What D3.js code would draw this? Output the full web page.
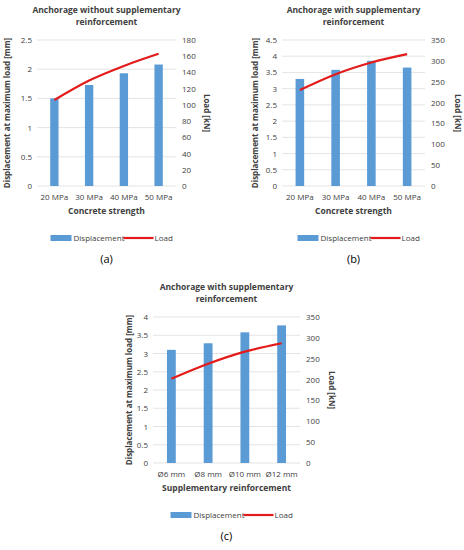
<!DOCTYPE html>
<html><head><meta charset="utf-8">
<script src="https://cdn.jsdelivr.net/npm/d3@7"></script>
<style>body{margin:0;background:#fff}text{font-family:"Open Sans",sans-serif;fill:#404040}</style>
</head><body><svg id="c" width="464" height="550"></svg>
<script>
const catsA = ["20 MPa","30 MPa","40 MPa","50 MPa"];
const dispA = [1.5,1.73,1.93,2.08];
const loadA = [106,130,148,163];
const catsB = ["20 MPa","30 MPa","40 MPa","50 MPa"];
const dispB = [3.3,3.58,3.86,3.65];
const loadB = [230,268,296,316];
const catsC = ["Ø6 mm","Ø8 mm","Ø10 mm","Ø12 mm"];
const dispC = [3.1,3.28,3.58,3.77];
const loadC = [202,238,267,287];
const svg = d3.select("#c");
function panel(o){
  const g = svg.append("g");
  const x = d3.scaleBand().domain(o.cats).range([o.x0,o.x1]).paddingInner(0.76).paddingOuter(0.38);
  const yl = d3.scaleLinear().domain([0,o.lmax]).range([o.yb,o.yt]);
  const yr = d3.scaleLinear().domain([0,o.rmax]).range([o.yb,o.yt]);
  const lt = d3.range(0,o.lmax+1e-9,o.lstep), rt = d3.range(0,o.rmax+1e-9,o.rstep);
  g.selectAll(".gl").data(lt).join("line").attr("x1",o.x0).attr("x2",o.x1)
    .attr("y1",d=>yl(d)).attr("y2",d=>yl(d)).attr("stroke","#d9d9d9").attr("stroke-width",0.7);
  g.selectAll(".lt").data(lt).join("text").attr("x",o.x0-5).attr("y",d=>yl(d)+3)
    .attr("text-anchor","end").attr("font-size",8).text(d=>d3.format("~g")(d));
  g.selectAll(".rt").data(rt).join("text").attr("x",o.x1+6).attr("y",d=>yr(d)+3)
    .attr("font-size",8).text(d=>d);
  g.selectAll(".bar").data(o.disp).join("rect").attr("x",(d,i)=>x(o.cats[i])).attr("width",x.bandwidth())
    .attr("y",d=>yl(d)).attr("height",d=>o.yb-yl(d)).attr("fill","#5b9bd5");
  g.append("path").datum(o.load).attr("fill","none").attr("stroke","#e31b1b").attr("stroke-width",2.2)
    .attr("d",d3.line().x((d,i)=>x(o.cats[i])+x.bandwidth()/2).y(d=>yr(d)).curve(d3.curveMonotoneX));
  g.selectAll(".xt").data(o.cats).join("text").attr("x",d=>x(d)+x.bandwidth()/2).attr("y",o.yb+14)
    .attr("text-anchor","middle").attr("font-size",8).text(d=>d);
  const cx=(o.x0+o.x1)/2;
  g.append("text").attr("x",cx).attr("y",o.yb+28).attr("text-anchor","middle").attr("font-size",8.5).attr("font-weight","bold").text(o.xt);
  o.title.forEach((t,i)=>g.append("text").attr("x",cx).attr("y",o.yt-27+i*12).attr("text-anchor","middle").attr("font-size",8.5).attr("font-weight","bold").text(t));
  const my=(o.yt+o.yb)/2;
  g.append("text").attr("transform",`translate(${o.lx},${my}) rotate(-90)`).attr("text-anchor","middle").attr("font-size",8).attr("font-weight","bold").text("Displacement at maximum load [mm]");
  g.append("text").attr("transform",`translate(${o.rx},${my}) rotate(90)`).attr("text-anchor","middle").attr("font-size",8).attr("font-weight","bold").text("Load [kN]");
  const ly=o.yb+52, lx=cx-56;
  g.append("rect").attr("x",lx).attr("y",ly-3).attr("width",21).attr("height",6).attr("fill","#5b9bd5");
  g.append("text").attr("x",lx+23).attr("y",ly+3).attr("font-size",8).text("Displacement");
  g.append("line").attr("x1",lx+73).attr("x2",lx+103).attr("y1",ly).attr("y2",ly).attr("stroke","#e31b1b").attr("stroke-width",2.2);
  g.append("text").attr("x",lx+104).attr("y",ly+3).attr("font-size",8).text("Load");
  g.append("text").attr("x",cx).attr("y",ly+25).attr("text-anchor","middle").attr("font-size",11).attr("font-family","Liberation Serif,serif").style("fill","#000").text(o.lab);
}
panel({cats:catsA,disp:dispA,load:loadA,x0:37,x1:176,yt:40,yb:186,lmax:2.5,lstep:0.5,rmax:180,rstep:20,
  title:["Anchorage without supplementary","reinforcement"],xt:"Concrete strength",lx:10,rx:204,lab:"(a)"});
panel({cats:catsB,disp:dispB,load:loadB,x0:282,x1:425,yt:40,yb:186,lmax:4.5,lstep:0.5,rmax:350,rstep:50,
  title:["Anchorage with supplementary","reinforcement"],xt:"Concrete strength",lx:258,rx:455,lab:"(b)"});
panel({cats:catsC,disp:dispC,load:loadC,x0:153,x1:300,yt:317,yb:463,lmax:4,lstep:0.5,rmax:350,rstep:50,
  title:["Anchorage with supplementary","reinforcement"],xt:"Supplementary reinforcement",lx:132,rx:329,lab:"(c)"});
</script></body></html>
